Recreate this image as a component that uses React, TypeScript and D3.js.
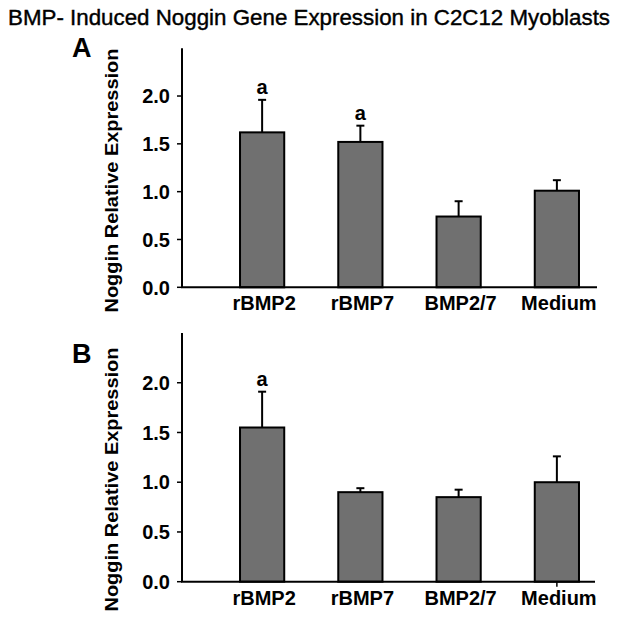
import React from "react";
import * as d3 from "d3";

const title = "BMP- Induced Noggin Gene Expression in C2C12 Myoblasts";
const yLabel = "Noggin Relative Expression";
const categories = ["rBMP2", "rBMP7", "BMP2/7", "Medium"];
const yTicks = [0, 0.5, 1.0, 1.5, 2.0];

const panelAMeans = [1.62, 1.52, 0.74, 1.01];
const panelAErr = [0.34, 0.17, 0.16, 0.11];
const panelALetters = ["a", "a", "", ""];

const panelBMeans = [1.55, 0.9, 0.85, 1.0];
const panelBErr = [0.36, 0.04, 0.075, 0.26];
const panelBLetters = ["a", "", "", ""];

const FONT = "Liberation Sans, Arial, Helvetica, sans-serif";

type PanelProps = {
  letter: string;
  means: number[];
  errs: number[];
  letters: string[];
  yBottom: number;
  yTop: number;
  xAxisEnd: number;
  labelCenter: number;
  letterY: number;
  extraTick?: string;
};

function Panel({ letter, means, errs, letters, yBottom, yTop, xAxisEnd, labelCenter, letterY, extraTick }: PanelProps) {
  const axisX = 182;
  const y = d3.scaleLinear().domain([0, 2.5]).range([yBottom, yTop]);
  const x = d3
    .scaleBand<string>()
    .domain(categories)
    .range([213, 606])
    .paddingInner(0.55)
    .paddingOuter(0.275);
  const bw = x.bandwidth();
  return (
    <g>
      <text x={72} y={letterY} fontFamily={FONT} fontWeight="bold" fontSize={27} fill="#000">
        {letter}
      </text>
      <text
        transform={`translate(117.5,${labelCenter}) rotate(-90)`}
        textAnchor="middle"
        fontFamily={FONT}
        fontWeight="bold"
        fontSize={18}
        textLength={264}
        lengthAdjust="spacingAndGlyphs"
        fill="#000"
      >
        {yLabel}
      </text>
      {categories.map((c, i) => {
        const cx = (x(c) as number) + bw / 2;
        const top = y(means[i]);
        const eTop = y(means[i] + errs[i]);
        return (
          <g key={c}>
            <line x1={cx} x2={cx} y1={top} y2={eTop} stroke="#000" strokeWidth={2} />
            <line x1={cx - 4} x2={cx + 4} y1={eTop} y2={eTop} stroke="#000" strokeWidth={2} />
            <rect
              x={x(c)}
              y={top}
              width={bw}
              height={yBottom - top}
              fill="#707070"
              stroke="#000"
              strokeWidth={2}
            />
            {letters[i] ? (
              <text x={cx} y={eTop - 6} textAnchor="middle" fontFamily={FONT} fontWeight="bold" fontSize={20} fill="#000">
                {letters[i]}
              </text>
            ) : null}
            <text x={cx + 2} y={yBottom + 23} textAnchor="middle" fontFamily={FONT} fontWeight="bold" fontSize={20} fill="#000">
              {c}
            </text>
          </g>
        );
      })}
      {extraTick ? (
        <line
          x1={(x(extraTick) as number) + bw / 2}
          x2={(x(extraTick) as number) + bw / 2}
          y1={yBottom}
          y2={yBottom + 5}
          stroke="#000"
          strokeWidth={1.5}
        />
      ) : null}
      <line x1={axisX} x2={axisX} y1={yTop} y2={yBottom} stroke="#000" strokeWidth={2} />
      <line x1={axisX - 1} x2={xAxisEnd} y1={yBottom} y2={yBottom} stroke="#000" strokeWidth={2} />
      {yTicks.map((t) => (
        <g key={t}>
          <line x1={axisX - 5} x2={axisX} y1={y(t)} y2={y(t)} stroke="#000" strokeWidth={1.5} />
          <text
            x={170}
            y={y(t)}
            dy="0.36em"
            textAnchor="end"
            fontFamily={FONT}
            fontWeight="bold"
            fontSize={20}
            fill="#000"
          >
            {d3.format(".1f")(t)}
          </text>
        </g>
      ))}
    </g>
  );
}

export default function App() {
  return (
    <svg
      width={621}
      height={618}
      style={{ position: "absolute", left: 0, top: 0, background: "#fff" }}
    >
      <rect width={621} height={618} fill="#fff" />
      <text
        x={8}
        y={25}
        fontFamily={FONT}
        fontSize={22}
        textLength={602}
        lengthAdjust="spacingAndGlyphs"
        fill="#000"
        stroke="#000"
        strokeWidth={0.4}
      >
        {title}
      </text>
      <Panel
        letter="A"
        means={panelAMeans}
        errs={panelAErr}
        letters={panelALetters}
        yBottom={287.3}
        yTop={48.2}
        xAxisEnd={597}
        labelCenter={180.5}
        letterY={57}
      />
      <Panel
        letter="B"
        means={panelBMeans}
        errs={panelBErr}
        letters={panelBLetters}
        yBottom={581.7}
        yTop={333}
        xAxisEnd={595}
        labelCenter={479.5}
        letterY={363}
        extraTick="Medium"
      />
    </svg>
  );
}
